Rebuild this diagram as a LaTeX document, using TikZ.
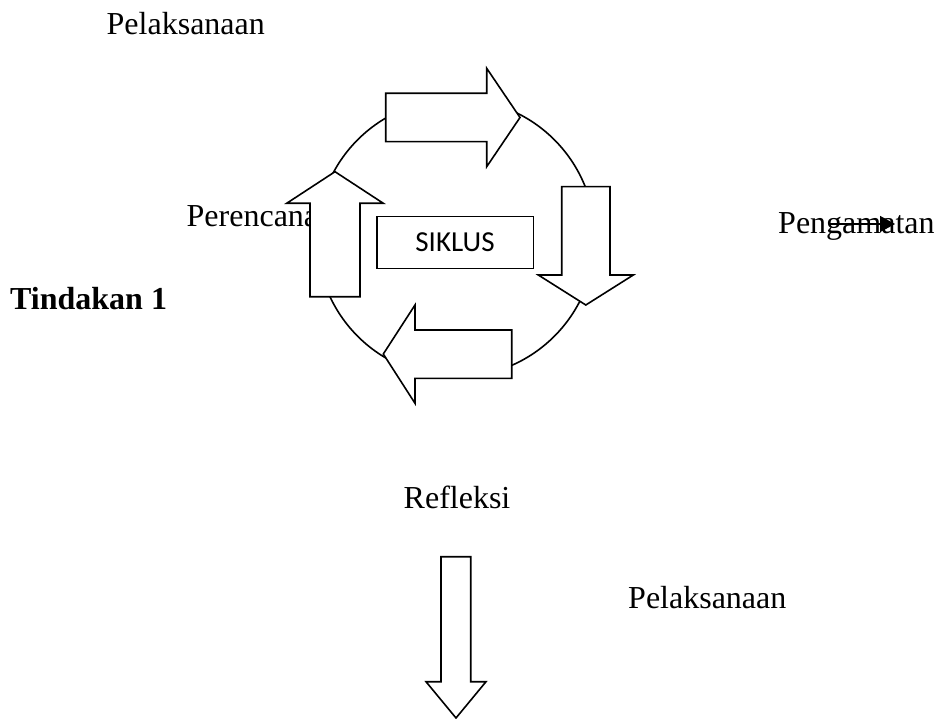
\documentclass[tikz,border=0pt]{standalone}
\usepackage{fontspec}
\setmainfont{Liberation Serif}
\newfontfamily\calfont{Carlito}
\usetikzlibrary{arrows.meta}
\tikzset{
  lbl/.style={inner sep=0pt, anchor=base west, font=\fontsize{32}{38}\selectfont},
  blockarrow/.style={draw=black, fill=white, line width=1.6pt, line join=miter},
  ring/.style={draw=black, line width=1.6pt},
  boxstyle/.style={draw=black, line width=1.6pt, fill=white, minimum width=156.6pt, minimum height=51.6pt, inner sep=0pt, font=\calfont\fontsize{29}{34}\selectfont},
  smallarrow/.style={draw=black, line width=1.5pt, -{Triangle[length=15pt,width=16pt]}}
}
\begin{document}
\begin{tikzpicture}[x=1pt,y=-1pt]
\useasboundingbox (0,0) rectangle (936,719);
% labels
\node[lbl] (pel1) at (106.5,35) {Pelaksanaan};
\node[lbl] (per) at (186.5,226.7) {Perencanaan};
\node[lbl] (peng) at (778,233.3) {Pengamatan};
\node[lbl, font=\bfseries\fontsize{32}{38}\selectfont] (tind) at (10,309) {Tindakan 1};
\node[lbl] (ref) at (403.5,508) {Refleksi};
\node[lbl] (pel2) at (628,608) {Pelaksanaan};
% circle
\draw[ring] (456,238) circle (139);
% cycle arrows
\draw[blockarrow] (385.7,93.3) -- (486.7,93.3) -- (486.7,68.3) -- (520,117.5) -- (486.7,166.7) -- (486.7,141.7) -- (385.7,141.7) -- cycle;
\draw[blockarrow] (561.7,186.7) -- (610,186.7) -- (610,275) -- (633.3,275) -- (585.8,305) -- (538.3,275) -- (561.7,275) -- cycle;
\draw[blockarrow] (511.7,330) -- (415,330) -- (415,305) -- (383.3,354) -- (415,403.3) -- (415,378.3) -- (511.7,378.3) -- cycle;
\draw[blockarrow] (310,296.7) -- (310,203.3) -- (286.7,203.3) -- (335,171.7) -- (383.3,203.3) -- (360,203.3) -- (360,296.7) -- cycle;
% centre box
\node[boxstyle] (sik) at (455,242.5) {SIKLUS};
% bottom arrow
\draw[blockarrow] (441,556.7) -- (470.7,556.7) -- (470.7,681.7) -- (486,681.7) -- (456,718) -- (426,681.7) -- (441,681.7) -- cycle;
% small arrow over Pengamatan
\coordinate (sa1) at (829,224);
\coordinate (sa2) at (895,224);
\draw[smallarrow] (sa1) -- (sa2);
\end{tikzpicture}
\end{document}
